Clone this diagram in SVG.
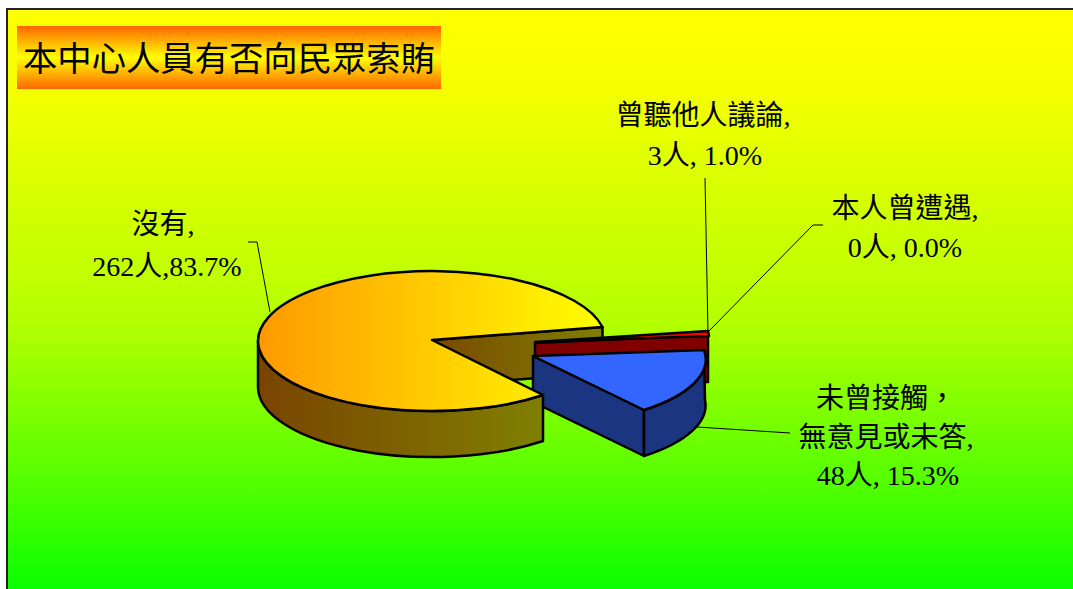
<svg xmlns="http://www.w3.org/2000/svg" width="1073" height="589" viewBox="0 0 1073 589">
<defs>
<linearGradient id="bg" gradientUnits="userSpaceOnUse" x1="0" y1="9" x2="0" y2="589">
<stop offset="0" stop-color="#ffff00"/>
<stop offset="0.14" stop-color="#f5ff00"/>
<stop offset="0.31" stop-color="#d8ff00"/>
<stop offset="0.536" stop-color="#b5ff00"/>
<stop offset="0.812" stop-color="#55ff00"/>
<stop offset="1" stop-color="#0aff00"/>
</linearGradient>
<linearGradient id="title" x1="0" y1="0" x2="0" y2="1">
<stop offset="0" stop-color="#ff6600"/>
<stop offset="0.5" stop-color="#ffff00"/>
<stop offset="1" stop-color="#ff6600"/>
</linearGradient>
<linearGradient id="ytop" gradientUnits="userSpaceOnUse" x1="258" y1="0" x2="605" y2="0">
<stop offset="0" stop-color="#ff9900"/>
<stop offset="1" stop-color="#ffff00"/>
</linearGradient>
<linearGradient id="yside" gradientUnits="userSpaceOnUse" x1="258" y1="0" x2="545" y2="0">
<stop offset="0" stop-color="#7a4400"/>
<stop offset="1" stop-color="#808000"/>
</linearGradient>
<linearGradient id="ycut" gradientUnits="userSpaceOnUse" x1="432" y1="0" x2="603" y2="0">
<stop offset="0" stop-color="#7a4800"/>
<stop offset="1" stop-color="#808000"/>
</linearGradient>
</defs>
<style>
.lbl{font-family:"Liberation Serif","Noto Sans CJK TC",serif;font-size:28px;fill:#000;text-anchor:middle}
.ttl{font-family:"Noto Sans CJK TC","Liberation Sans",sans-serif;font-size:34px;fill:#000}
.pie{stroke:#000;stroke-width:2.5;stroke-linejoin:round}
.lead{fill:none;stroke:#000;stroke-width:1}
</style>
<rect x="0" y="0" width="1073" height="589" fill="#ffffff"/>
<rect id="frame" x="7" y="9" width="1100" height="620" fill="url(#bg)" stroke="#222" stroke-width="2"/>
<g id="title-box">
<rect x="17" y="26" width="424" height="63" fill="url(#title)"/>
<text class="ttl" x="23" y="71" textLength="412" lengthAdjust="spacingAndGlyphs">本中心人員有否向民眾索賄</text>
</g>
<g id="connectors">
<polyline class="lead" points="248,242 257,242 270,312"/>
<polyline class="lead" points="705,178 708,333"/>
<polyline class="lead" points="823,225 813,225 709,331"/>
<polyline class="lead" points="790,433 697,427"/>
</g>
<g id="slice-yes-back">
<path class="pie" d="M432,340 L602.5,327 L602.5,373 L432,386 Z" fill="url(#ycut)"/>
</g>
<g id="slice-heard">
<path class="pie" d="M535,343 L708,335 L708,382 L535,390 Z" fill="#800000"/>
<path class="pie" d="M535,342 L708,331 L709,336 Z" fill="#ff0000"/>
</g>
<g id="slice-never">
<path class="pie" d="M533,356 L644,410 L644,456 L533,402 Z" fill="#1c3580"/>
<path class="pie" d="M704,350 L705,400 A172 66 0 0 1 644,456 L644,410 A172 66 0 0 0 704,350 Z" fill="#1c3580"/>
<path class="pie" d="M533,356 L704,350 A172 66 0 0 1 644,410 Z" fill="#3366ff"/>
</g>
<g id="slice-no">
<path class="pie" d="M258,341 A174 70 0 0 0 543,395 L543,441 A174 70 0 0 1 258,387 Z" fill="url(#yside)"/>
<path class="pie" d="M432,340 L602.5,327 A174 70 0 1 0 543,395 Z" fill="url(#ytop)"/>
</g>
<g id="label-no">
<text class="lbl" x="163" y="234">沒有,</text>
<text class="lbl" x="167" y="276">262人,83.7%</text>
</g>
<g id="label-heard">
<text class="lbl" x="703" y="125">曾聽他人議論,</text>
<text class="lbl" x="705" y="165">3人, 1.0%</text>
</g>
<g id="label-self">
<text class="lbl" x="905" y="218">本人曾遭遇,</text>
<text class="lbl" x="905" y="257">0人, 0.0%</text>
</g>
<g id="label-never">
<text class="lbl" x="886" y="408">未曾接觸，</text>
<text class="lbl" x="886" y="447">無意見或未答,</text>
<text class="lbl" x="888" y="485">48人, 15.3%</text>
</g>
</svg>
